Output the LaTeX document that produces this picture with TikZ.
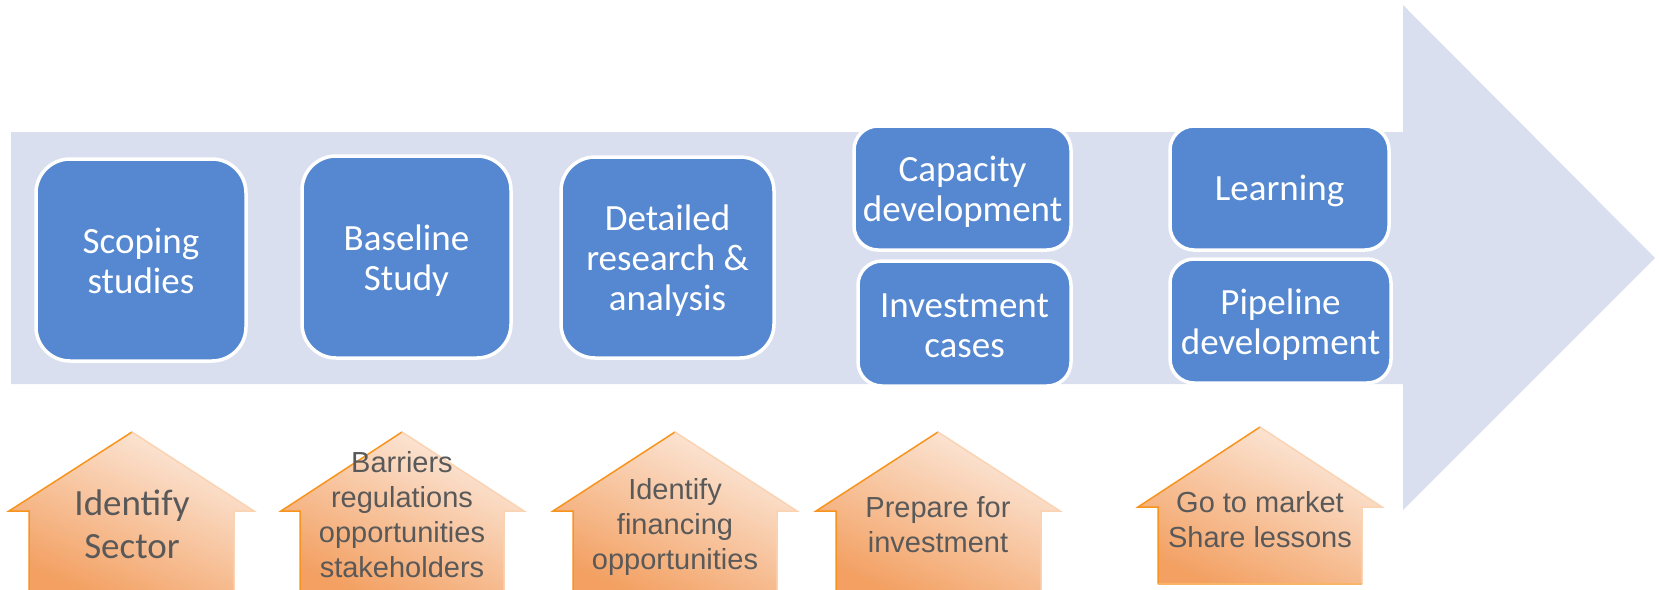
\documentclass[tikz,border=0pt]{standalone}
\usepackage{fontspec}
\newfontfamily\carlito{Carlito}
\newfontfamily\arialf{Liberation Sans}
\definecolor{arrowfill}{HTML}{D9DFEF}
\definecolor{boxblue}{HTML}{5588D0}
\definecolor{hlight}{HTML}{FCEBDF}
\definecolor{hdark}{HTML}{F3A062}
\definecolor{hedge}{HTML}{F7941D}
\definecolor{hedgelight}{HTML}{FAD3B3}
\definecolor{htext}{HTML}{595959}
\newcommand{\bs}{\rule[-5pt]{0pt}{37pt}}
\newcommand{\myhouse}[8]{%
  \shade[house] (#5,#8) -- (#5,#7) -- (#3,#7) -- (#1,#2) -- (#4,#7) -- (#6,#7) -- (#6,#8) -- cycle;
  \draw[hedge, line width=1.5pt] (#5,#8) -- (#5,#7) -- (#3,#7) -- (#1,#2);
  \draw[hedgelight, line width=1.5pt] (#1,#2) -- (#4,#7) -- (#6,#7) -- (#6,#8);
  \draw[hedge!50!hedgelight, line width=1.5pt] (#5,#8) -- (#6,#8);
}
\begin{document}
\begin{tikzpicture}[x=1pt,y=-1pt,
  stage/.style={draw=white, line width=3.5pt, fill=boxblue, text=white, align=center,
    font=\carlito\fontsize{37}{40}\selectfont, inner sep=0pt},
  big/.style={rounded corners=34pt},
  small/.style={rounded corners=24pt},
  house/.style={top color=hlight, bottom color=hdark, shading angle=-25},
  htxt/.style={text=htext, align=center, font=\arialf\fontsize{29}{35}\selectfont, inner sep=0pt}]
\useasboundingbox (0,0) rectangle (1659,589);
\fill[arrowfill] (11,132) -- (1403,132) -- (1403,5) -- (1655,258) -- (1403,510) -- (1403,384) -- (11,384) -- cycle;

\node[stage,big,minimum width=210pt,minimum height=202pt] (s1) at (141,260) {\bs Scoping\\\bs studies};
\node[stage,big,minimum width=209pt,minimum height=202pt] (s2) at (406.5,257) {\bs Baseline\\\bs Study};
\node[stage,big,minimum width=213pt,minimum height=201pt] (s3) at (667.5,257.5) {\bs Detailed\\\bs research \&\\\bs analysis};
\node[stage,small,minimum width=217pt,minimum height=124pt] (s4) at (962.5,188) {\bs Capacity\\\bs development};
\node[stage,small,minimum width=213pt,minimum height=125pt] (s5) at (964.5,323.5) {\bs Investment\\\bs cases};
\node[stage,small,minimum width=219pt,minimum height=124pt] (s6) at (1279.5,188) {\bs Learning};
\node[stage,small,minimum width=221pt,minimum height=124pt] (s7) at (1280.5,321) {\bs Pipeline\\\bs development};

\myhouse{132}{432}{9}{254}{29}{234}{511}{592}
\myhouse{402}{432}{281}{524}{300}{504}{511}{592}
\myhouse{675}{432}{553}{797}{573}{777}{511}{592}
\myhouse{938}{432}{816}{1060}{836}{1041}{511}{592}
\myhouse{1260}{427}{1138}{1382}{1158}{1362}{507}{584}

\node[htxt, font=\carlito\fontsize{37}{43}\selectfont] (t1) at (132,524) {Identify\\Sector};
\node[htxt] (t2) at (402,515) {Barriers\\regulations\\opportunities\\stakeholders};
\node[htxt] (t3) at (675,527) {Identify\\financing\\opportunities};
\node[htxt] (t4) at (938,525) {Prepare for\\investment};
\node[htxt] (t5) at (1260,520) {Go to market\\Share lessons};
\end{tikzpicture}
\end{document}
